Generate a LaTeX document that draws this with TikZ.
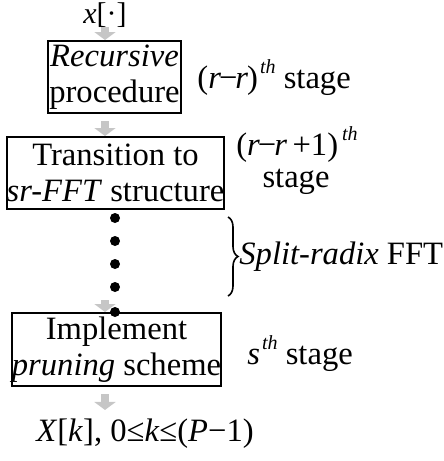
\documentclass[tikz,border=0pt]{standalone}
\usepackage{fontspec}
\setmainfont{Liberation Serif}
\usetikzlibrary{arrows.meta,decorations.pathreplacing}

\newcommand{\thsup}{\raisebox{7.5pt}{\fontsize{10}{10}\selectfont\textit{th}}}

\begin{document}
\begin{tikzpicture}[
    x=0.5pt, y=-0.5pt,
    font=\fontsize{16.3}{18}\selectfont,
    stagebox/.style={rectangle,draw=black,line width=1pt,align=center,inner sep=0pt,minimum height=36pt},
    flow/.style={draw=gray!45,line width=4pt,-{Triangle[length=4pt,width=10.5pt]}},
    dotnode/.style={circle,fill=black,inner sep=0pt,minimum size=5pt},
    lbl/.style={inner sep=0pt}
]
\useasboundingbox (0,0) rectangle (444,461);

\node[lbl,anchor=base,font=\fontsize{15}{18}\selectfont] (xin) at (105,23) {\textit{x}[·]};

\node[stagebox,minimum width=66.5pt] (rec) at (114.5,77) {\textit{Recursive}\\procedure};
\node[stagebox,minimum width=108.5pt] (trans) at (115.5,173) {Transition to\\\textit{sr-FFT} structure};
\node[stagebox,minimum width=104.5pt,minimum height=36.5pt] (prune) at (116.5,349.5) {Implement\\\textit{pruning} scheme};

\node[lbl,anchor=base west] (out) at (36,441) {\textit{X}[\textit{k}], 0≤\textit{k}≤(\textit{P}−1)};

\node[lbl,anchor=base west] (recstg) at (197,88) {(\textit{r}\kern-1pt−\kern-1pt\textit{r}\kern-0.5pt)\kern1pt\thsup\ stage};
\node[lbl,anchor=base] (transstg) at (297,155) {(\textit{r}\kern-1pt−\kern-1pt\textit{r}\,+1)\kern2pt\thsup};
\node[lbl,anchor=base] (transstg2) at (296,187) {stage};
\node[lbl,anchor=base west] (prunestg) at (247,364) {\textit{s}\kern1pt\thsup\ stage};

\draw[flow] (xin.south) -- (xin |- rec.north);
\draw[flow,shorten <=3.5pt] (xin |- rec.south) -- (xin |- trans.north);
\draw[flow,shorten <=6.5pt] (xin |- 0,287) -- (xin |- prune.north);
\draw[flow,shorten <=3.5pt,shorten >=4pt] (xin |- prune.south) -- (xin |- out.north);

\foreach \i/\yy in {1/218,2/241,3/264,4/287,5/312}
    \node[dotnode] (d\i) at (115,\yy) {};

\coordinate (bt) at (228,217);
\coordinate (bb) at (228,296);
\draw[decorate,decoration={brace,amplitude=5pt},line width=0.8pt] (bt) -- (bb);
\node[lbl,anchor=west] (srfft) at (239,257) {\textit{Split-radix} FFT};

\end{tikzpicture}
\end{document}
